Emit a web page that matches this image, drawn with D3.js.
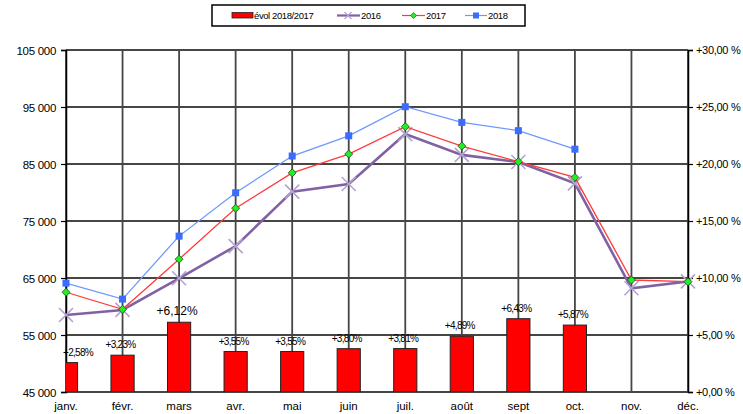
<!DOCTYPE html>
<html lang="fr">
<head>
<meta charset="utf-8">
<script src="https://cdn.jsdelivr.net/npm/d3@7"></script>
<style>
  body { margin: 0; background: #fff; font-family: "Liberation Sans", Arial, sans-serif; }
  .grid line { stroke: #464646; stroke-width: 1.8; }
  .tick text { fill: #000; }
</style>
</head>
<body>
<svg id="chart" width="743" height="414"></svg>
<script>
// values
var months = ["janv.", "févr.", "mars", "avr.", "mai", "juin", "juil.", "août", "sept", "oct.", "nov.", "déc."];
var v2016 = [58500, 59400, 64950, 70600, 80150, 81500, 90250, 86600, 85350, 81600, 63200, 64400];
var v2017 = [62500, 59500, 68300, 77250, 83450, 86750, 91550, 88150, 85400, 82650, 64650, 64350];
var v2018 = [64100, 61300, 72350, 79950, 86400, 89950, 95050, 92300, 90850, 87600, null, null];
var evol = [2.58, 3.23, 6.12, 3.55, 3.55, 3.80, 3.81, 4.89, 6.43, 5.87, null, null];
var leftTicks = [45000, 55000, 65000, 75000, 85000, 95000, 105000];
var rightTicks = [0, 5, 10, 15, 20, 25, 30];

var svg = d3.select("#chart");
var plot = {left: 66, right: 688, top: 50, bottom: 392};

var fr = d3.formatLocale({decimal: ",", thousands: " ", grouping: [3], currency: ["", ""]});
var fmtLeft = fr.format(",.0f");
var fmtRight = function(d){ return "+" + fr.format(".2f")(d) + " %"; };
var fmtEvol = function(d){ return "+" + fr.format(".2f")(d) + "%"; };

var x = d3.scalePoint().domain(months).range([plot.left, plot.right]).padding(0);
var yL = d3.scaleLinear().domain([45000, 105000]).range([plot.bottom, plot.top]);
var yR = d3.scaleLinear().domain([0, 30]).range([plot.bottom, plot.top]);
var barW = x.step() * 0.41;

// grid
var grid = svg.append("g").attr("class", "grid");
grid.selectAll(".h").data(leftTicks).enter().append("line")
  .attr("x1", plot.left).attr("x2", plot.right)
  .attr("y1", function(d){ return yL(d); }).attr("y2", function(d){ return yL(d); });
grid.selectAll(".v").data(months).enter().append("line")
  .attr("x1", function(d){ return x(d); }).attr("x2", function(d){ return x(d); })
  .attr("y1", plot.top).attr("y2", plot.bottom);

// axes
var axL = svg.append("g").attr("transform", "translate(" + plot.left + ",0)")
  .call(d3.axisLeft(yL).tickValues(leftTicks).tickFormat(fmtLeft).tickSize(5).tickPadding(5));
var axR = svg.append("g").attr("transform", "translate(" + plot.right + ",0)")
  .call(d3.axisRight(yR).tickValues(rightTicks).tickFormat(fmtRight).tickSize(5).tickPadding(3));
[axL, axR].forEach(function(a){
  a.select(".domain").attr("stroke", "#000").attr("stroke-width", 1.5);
  a.selectAll(".tick line").attr("stroke", "#000").attr("stroke-width", 1.2);
  a.selectAll("text").style("font-family", "Liberation Sans, Arial, sans-serif");
});
axL.selectAll("text").style("font-size", "11.5px").style("letter-spacing", "-0.3px").attr("dy", "0.36em");
axR.selectAll("text").style("font-size", "11px").style("letter-spacing", "-0.3px").attr("dy", "0.36em");

// month labels
svg.append("g").selectAll("text").data(months).enter().append("text")
  .attr("x", function(d){ return x(d); }).attr("y", 410)
  .attr("text-anchor", "middle").style("font-size", "11.5px")
  .text(function(d){ return d; });

// bars (clipped to the plot area)
svg.append("clipPath").attr("id", "clip").append("rect")
  .attr("x", plot.left).attr("y", plot.top)
  .attr("width", plot.right - plot.left).attr("height", plot.bottom - plot.top);

var barData = months.map(function(m, i){ return {m: m, v: evol[i], i: i}; })
  .filter(function(d){ return d.v != null; });

svg.append("g").attr("clip-path", "url(#clip)").selectAll("rect").data(barData).enter().append("rect")
  .attr("x", function(d){ return x(d.m) - barW / 2; })
  .attr("y", function(d){ return yR(d.v); })
  .attr("width", barW)
  .attr("height", function(d){ return yR(0) - yR(d.v); })
  .attr("fill", "#ff0000").attr("stroke", "#222").attr("stroke-width", 1);

// lines
function series(vals, color, width){
  var pts = months.map(function(m, i){ return {m: m, v: vals[i]}; })
    .filter(function(d){ return d.v != null; });
  svg.append("path").datum(pts)
    .attr("fill", "none").attr("stroke", color).attr("stroke-width", width)
    .attr("d", d3.line().x(function(d){ return x(d.m); }).y(function(d){ return yL(d.v); }));
  return pts;
}

var p16 = series(v2016, "#8062a4", 2.6);
svg.append("g").selectAll("path").data(p16).enter().append("path")
  .attr("transform", function(d){ return "translate(" + x(d.m) + "," + yL(d.v) + ")"; })
  .attr("d", "M-7,-7L7,7M-7,7L7,-7")
  .attr("stroke", "#b3a3d0").attr("stroke-width", 1.6).attr("fill", "none");

var p17 = series(v2017, "#ff3b3b", 1.3);
svg.append("g").selectAll("path").data(p17).enter().append("path")
  .attr("transform", function(d){ return "translate(" + x(d.m) + "," + yL(d.v) + ")"; })
  .attr("d", "M0,-4L4,0L0,4L-4,0Z")
  .attr("fill", "#22ee22").attr("stroke", "#1a4a1a").attr("stroke-width", 0.8);

var p18 = series(v2018, "#6f98ff", 1.3);
svg.append("g").selectAll("rect").data(p18).enter().append("rect")
  .attr("x", function(d){ return x(d.m) - 3.5; })
  .attr("y", function(d){ return yL(d.v) - 3.5; })
  .attr("width", 7).attr("height", 7)
  .attr("fill", "#3a6dff");

// bar labels
svg.append("g").selectAll("text").data(barData).enter().append("text")
  .attr("x", function(d){ return d.i === 0 ? x(d.m) - 3 : x(d.m) - 2; })
  .attr("y", function(d){ return yR(d.v) - 7; })
  .attr("text-anchor", function(d){ return d.i === 0 ? "start" : "middle"; })
  .style("font-size", function(d){ return d.i === 2 ? "12px" : "10px"; })
  .style("letter-spacing", function(d){ return d.i === 2 ? "0px" : "-0.7px"; })
  .text(function(d){ return fmtEvol(d.v); });

// legend
var lg = svg.append("g");
lg.append("rect").attr("x", 212).attr("y", 5).attr("width", 313).attr("height", 21)
  .attr("fill", "#fff").attr("stroke", "#000").attr("stroke-width", 1.5);
lg.append("rect").attr("x", 232).attr("y", 12.5).attr("width", 21).attr("height", 5.5)
  .attr("fill", "#ff0000").attr("stroke", "#222").attr("stroke-width", 0.8);
lg.append("line").attr("x1", 337).attr("x2", 360).attr("y1", 15.5).attr("y2", 15.5)
  .attr("stroke", "#8062a4").attr("stroke-width", 2.2);
lg.append("path").attr("d", "M344.5,12L351.5,19M344.5,19L351.5,12").attr("stroke", "#b3a3d0").attr("stroke-width", 1.2);
lg.append("line").attr("x1", 402).attr("x2", 425).attr("y1", 15.5).attr("y2", 15.5)
  .attr("stroke", "#ff3b3b").attr("stroke-width", 1.2);
lg.append("path").attr("d", "M413.5,12.5L416.5,15.5L413.5,18.5L410.5,15.5Z")
  .attr("fill", "#22ee22").attr("stroke", "#1a4a1a").attr("stroke-width", 0.6);
lg.append("line").attr("x1", 465).attr("x2", 487).attr("y1", 15.5).attr("y2", 15.5)
  .attr("stroke", "#6f98ff").attr("stroke-width", 1.2);
lg.append("rect").attr("x", 473).attr("y", 12.5).attr("width", 6).attr("height", 6).attr("fill", "#3a6dff");
var legTexts = [{t: "évol 2018/2017", x: 254}, {t: "2016", x: 361}, {t: "2017", x: 426}, {t: "2018", x: 488}];
lg.selectAll("text.l").data(legTexts).enter().append("text")
  .attr("x", function(d){ return d.x; }).attr("y", 19)
  .style("font-size", "9.5px").style("letter-spacing", "-0.4px")
  .text(function(d){ return d.t; });
</script>
</body>
</html>
